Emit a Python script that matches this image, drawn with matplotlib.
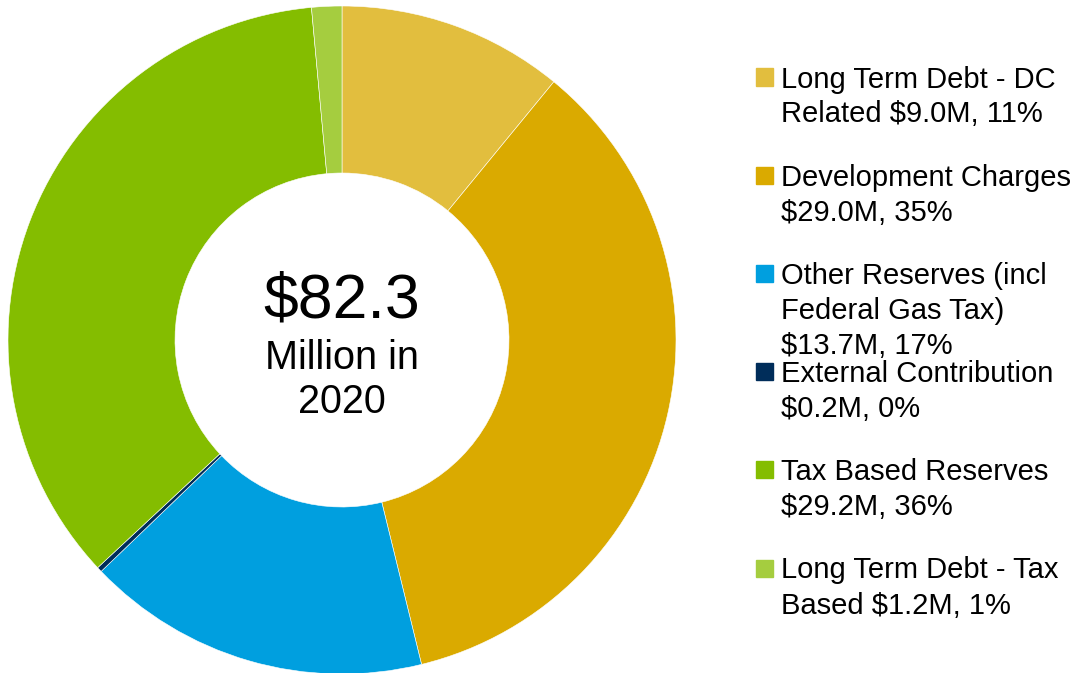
import matplotlib
matplotlib.use('Agg')
import matplotlib.pyplot as plt
from matplotlib.patches import Rectangle

plt.rcParams['font.family'] = ['Liberation Sans', 'DejaVu Sans']

labels = [['Long Term Debt - DC', 'Related $9.0M, 11%'],
          ['Development Charges', '$29.0M, 35%'],
          ['Other Reserves (incl', 'Federal Gas Tax)', '$13.7M, 17%'],
          ['External Contribution', '$0.2M, 0%'],
          ['Tax Based Reserves', '$29.2M, 36%'],
          ['Long Term Debt - Tax', 'Based $1.2M, 1%']]
values = [9.0, 29.0, 13.7, 0.2, 29.2, 1.2]
colors = ['#E2BE3E', '#DAAA00', '#009FDF', '#002D5A', '#84BD00', '#A5CD3F']
total_label = '$82.3'
sub_lines = ['Million in', '2020']

W, H = 1081, 673
fig = plt.figure(figsize=(W / 100, H / 100), dpi=100)

# donut centred at (342, 340) px, outer radius 334 px
cx, cy, r = 342, 340, 334
ax = fig.add_axes([(cx - r) / W, (H - cy - r) / H, 2 * r / W, 2 * r / H])
ax.pie(values, colors=colors, startangle=90, counterclock=False, radius=1,
       wedgeprops=dict(width=0.5, edgecolor='white', linewidth=0.4))
ax.set_xlim(-1, 1)
ax.set_ylim(-1, 1)
ax.set_aspect('equal')
ax.axis('off')

# centre label, baselines in pixels
fig.text(cx / W, 1 - 317 / H, total_label, ha='center', va='baseline', fontsize=45)
for txt, base in zip(sub_lines, [369, 413]):
    fig.text(cx / W, 1 - base / H, txt, ha='center', va='baseline', fontsize=28.5)

# legend: square plus wrapped text, fixed spacing
y0, step, lh = 77, 98.2, 35
for i, (lines, col) in enumerate(zip(labels, colors)):
    y = y0 + i * step
    fig.add_artist(Rectangle((756 / W, 1 - (y + 8.5) / H), 17 / W, 17 / H,
                             transform=fig.transFigure, color=col))
    for k, line in enumerate(lines):
        fig.text(781 / W, 1 - (y + 10.5 + k * lh) / H, line, ha='left',
                 va='baseline', fontsize=21)

fig.savefig('out.png', dpi=100, facecolor='white')
